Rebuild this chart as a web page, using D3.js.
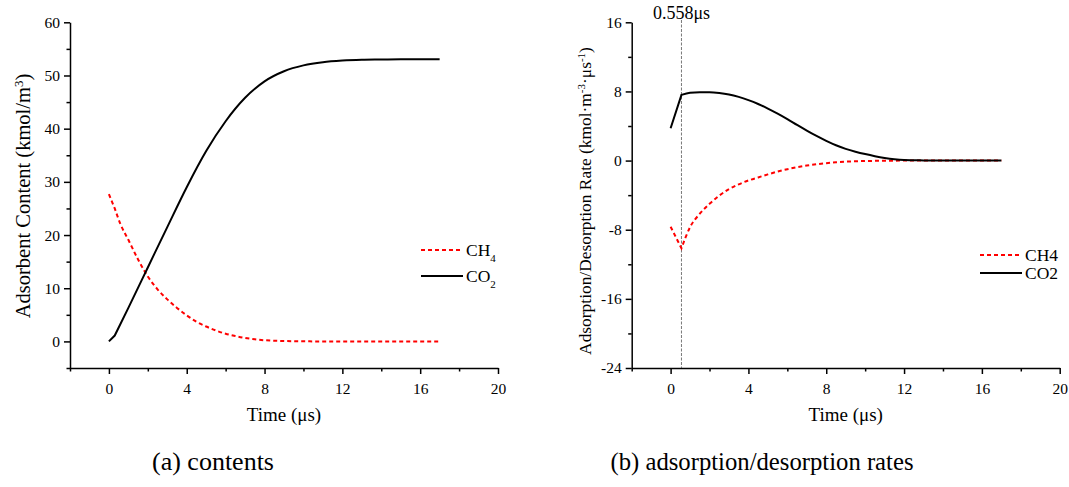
<!DOCTYPE html>
<html>
<head>
<meta charset="utf-8">
<script src="https://cdn.jsdelivr.net/npm/d3@7"></script>
<style>
  body { margin: 0; background: #fff; }
  svg text { font-family: "Liberation Serif", "Times New Roman", serif; fill: #000; }
  .tick text { font-size: 15.5px; }
  .domain, .tick line { stroke: #000; stroke-width: 1.5px; }
</style>
</head>
<body>
<svg id="chart" width="1069" height="487"></svg>
<script>
// (a) contents, kmol/m3
const timeA = [0, 0.3, 1, 2, 3, 4, 5, 6, 7, 8, 9, 10, 11, 12, 13, 14, 15, 17];
const co2Content = [0, 1.1, 6.3, 13.9, 21.5, 29.0, 35.8, 41.4, 45.8, 48.9, 50.8, 51.9, 52.5, 52.8, 52.95, 53.0, 53.05, 53.05];
const timeCH4 = [0, 0.3, 0.6, 1, 1.5, 2, 2.5, 3, 3.5, 4, 4.5, 5, 5.5, 6, 6.5, 7, 7.5, 8, 9, 10, 11, 17];
const ch4Content = [27.7, 25.0, 22.0, 19.1, 15.4, 12.2, 9.8, 7.9, 6.3, 4.9, 3.7, 2.8, 2.05, 1.45, 1.0, 0.65, 0.4, 0.22, 0.08, 0.02, 0, 0];

// (b) adsorption/desorption rates, kmol·m-3·μs-1
const timeB = [0, 0.558, 1, 1.5, 2, 2.5, 3, 3.5, 4, 4.5, 5, 5.5, 6, 6.5, 7, 7.5, 8, 8.5, 9, 9.5, 10, 10.5, 11, 11.5, 12, 13, 14, 17];
const co2Rate = [3.74, 7.6, 7.85, 7.9, 7.9, 7.82, 7.65, 7.37, 7.0, 6.55, 6.02, 5.43, 4.8, 4.13, 3.47, 2.85, 2.28, 1.77, 1.36, 1.03, 0.75, 0.51, 0.31, 0.16, 0.07, 0.02, 0, 0];
const ch4Rate = [-7.65, -10.15, -7.7, -6.15, -5.0, -4.05, -3.3, -2.75, -2.3, -1.95, -1.6, -1.27, -1.0, -0.77, -0.57, -0.42, -0.3, -0.2, -0.12, -0.08, -0.05, -0.03, -0.02, -0.01, 0, 0, 0, 0];
const markTime = 0.558;

const svg = d3.select("#chart");

function panel(o) {
  const x = d3.scaleLinear().domain([-2, 20]).range([o.left, o.left + 428]);
  const y = d3.scaleLinear().domain(o.yDomain).range([368, 22.3]);
  const fmt = d => String(d);

  // axes: major + minor ticks
  svg.append("g").attr("transform", "translate(0,368)")
    .call(d3.axisBottom(x).tickValues([0, 4, 8, 12, 16, 20]).tickFormat(fmt).tickSize(6).tickSizeOuter(0).tickPadding(6))
    .call(g => g.selectAll("text").attr("dy", "0.9em"));
  svg.append("g").attr("transform", "translate(0,368)")
    .call(d3.axisBottom(x).tickValues([-2, 2, 6, 10, 14, 18]).tickSize(3.5).tickFormat(""))
    .call(g => g.select(".domain").remove());
  svg.append("g").attr("transform", `translate(${o.left},0)`)
    .call(d3.axisLeft(y).tickValues(o.major).tickFormat(fmt).tickSize(6).tickSizeOuter(0).tickPadding(4));
  svg.append("g").attr("transform", `translate(${o.left},0)`)
    .call(d3.axisLeft(y).tickValues(o.minor).tickSize(3.5).tickFormat(""))
    .call(g => g.select(".domain").remove());

  // axis titles
  svg.append("text").attr("x", (x(-2) + x(20)) / 2).attr("y", 421).attr("text-anchor", "middle")
    .style("font-size", "19px").text("Time (μs)");
  const yt = svg.append("text").attr("transform", `translate(${o.ytitleX},${o.ytitleY}) rotate(-90)`)
    .attr("text-anchor", "middle").style("font-size", o.ytitleSize + "px");
  o.ytitle.forEach(p => {
    yt.append("tspan").attr("baseline-shift", p.sup ? "super" : null)
      .style("font-size", p.sup ? Math.round(o.ytitleSize * 0.62) + "px" : null).text(p.t);
  });

  // caption
  svg.append("text").attr("x", o.capX).attr("y", 470).attr("text-anchor", "middle")
    .style("font-size", o.capSize + "px").text(o.caption);

  return { x, y };
}

// first segment straight (sharp start), rest smooth
function pathFor(s, t, vals) {
  const pts = vals.map((v, i) => [s.x(t[i]), s.y(v)]);
  const rest = d3.line().curve(d3.curveMonotoneX)(pts.slice(1));
  return `M${pts[0][0]},${pts[0][1]}` + rest.replace(/^M/, "L");
}

function drawLines(s, series, legend) {
  series.forEach((d, i) => {
    svg.append("path").attr("d", pathFor(s, d.t, d.values)).attr("fill", "none")
      .attr("stroke", d.color).attr("stroke-width", 2)
      .attr("stroke-dasharray", d.dash ? "4,3" : null);
    const ly = legend.y[i];
    svg.append("line").attr("x1", legend.x).attr("x2", legend.x + 42).attr("y1", ly).attr("y2", ly)
      .attr("stroke", d.color).attr("stroke-width", 2).attr("stroke-dasharray", d.dash ? "4,3" : null);
    const tx = svg.append("text").attr("x", legend.x + 45).attr("y", ly + 6).style("font-size", "17.5px");
    tx.append("tspan").text(d.label);
    if (d.sub) tx.append("tspan").attr("baseline-shift", "sub").style("font-size", "11px").text(d.sub);
  });
}

const a = panel({
  left: 70, yDomain: [-5, 60],
  major: [0, 10, 20, 30, 40, 50, 60], minor: [-5, 5, 15, 25, 35, 45, 55],
  ytitleX: 30, ytitleY: 196, ytitleSize: 20.5, capX: 213, capSize: 26, caption: "(a) contents",
  ytitle: [{ t: "Adsorbent Content (kmol/m" }, { t: "3", sup: true }, { t: ")" }]
});
drawLines(a, [
  { t: timeCH4, values: ch4Content, color: "#ff0000", dash: true, label: "CH", sub: "4" },
  { t: timeA, values: co2Content, color: "#000", label: "CO", sub: "2" }
], { x: 421, y: [250, 276] });

const b = panel({
  left: 631.7, yDomain: [-24, 16],
  major: [-24, -16, -8, 0, 8, 16], minor: [-20, -12, -4, 4, 12],
  ytitleX: 591, ytitleY: 201, ytitleSize: 17.4, capX: 762, capSize: 24.7, caption: "(b) adsorption/desorption rates",
  ytitle: [{ t: "Adsorption/Desorption Rate (kmol·m" }, { t: "-3", sup: true }, { t: "·μs" }, { t: "-1", sup: true }, { t: ")" }]
});

// marker at the CH4 rate minimum
svg.append("line").attr("x1", b.x(markTime)).attr("x2", b.x(markTime)).attr("y1", 20).attr("y2", 368)
  .attr("stroke", "#555").attr("stroke-width", 0.8).attr("stroke-dasharray", "3,1.5");
svg.append("text").attr("x", b.x(markTime)).attr("y", 19).attr("text-anchor", "middle")
  .style("font-size", "18px").text(markTime + "μs");

drawLines(b, [
  { t: timeB, values: ch4Rate, color: "#ff0000", dash: true, label: "CH4" },
  { t: timeB, values: co2Rate, color: "#000", label: "CO2" }
], { x: 980, y: [255, 273] });
</script>
</body>
</html>
